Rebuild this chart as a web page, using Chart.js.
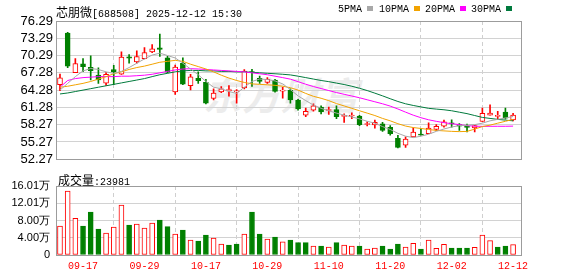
<!DOCTYPE html>
<html>
<head>
<meta charset="utf-8">
<script src="https://cdn.jsdelivr.net/npm/chart.js@4.4.1/dist/chart.umd.min.js"></script>
<style>
  html, body { margin: 0; padding: 0; background: #fff; }
  #wrap { position: relative; width: 578px; height: 276px; overflow: hidden; }
  canvas { position: absolute; left: 0; }
  .t { position: absolute; white-space: nowrap; font: 10px "Liberation Mono", "DejaVu Sans Mono", monospace; line-height: 14px; color: #000; }
  .cjk { font: 12px "Noto Sans CJK SC"; }
  .sq { display: inline-block; width: 6px; height: 5px; margin-left: 5px; vertical-align: 1px; }
  #wm { position: absolute; left: 203px; top: 72px; font: italic bold 38px "Noto Sans CJK SC"; color: #ececec; line-height: 44px; letter-spacing: 1px; }
</style>
</head>
<body>
<div id="wrap">
  <div id="wm">东方财富</div>
  <canvas id="pc" width="578" height="170" style="top:0"></canvas>
  <canvas id="vc" width="578" height="106" style="top:170px"></canvas>
  <div class="t" style="left:56px;top:3px"><span class="cjk">芯朋微</span>[688508] 2025-12-12 15:30</div>
  <div id="legend"></div>
  <div class="t" id="volTitle" style="left:58px;top:171px"></div>
</div>
<script>
// trading days shown on the chart
const dates = ['09-12','09-15','09-16','09-17','09-18','09-19','09-22','09-23','09-24','09-25','09-26','09-29','09-30',
  '10-09','10-10','10-13','10-14','10-15','10-16','10-17','10-20','10-21','10-22','10-23','10-24','10-27','10-28','10-29','10-30','10-31',
  '11-03','11-04','11-05','11-06','11-07','11-10','11-11','11-12','11-13','11-14','11-17','11-18','11-19','11-20','11-21','11-24','11-25','11-26','11-27','11-28',
  '12-01','12-02','12-03','12-04','12-05','12-08','12-09','12-10','12-11','12-12'];

const openP = [65.23,74.17,67.33,68.84,68.23,66.90,65.50,67.83,67.07,70.05,69.17,69.73,70.90,71.62,69.90,63.95,68.95,65.06,66.33,65.61,
  62.83,63.95,64.20,63.98,64.66,67.50,66.33,65.61,66.00,64.10,64.23,62.56,59.94,60.78,61.33,60.73,60.89,59.72,59.78,59.78,
  58.30,58.22,58.40,57.82,55.89,54.70,56.16,56.60,56.72,57.44,57.99,58.55,58.27,57.90,57.72,58.83,59.94,59.70,60.44,59.11];
const highP = [67.07,74.34,69.74,69.78,70.23,68.17,67.33,68.57,70.95,70.45,71.12,71.67,72.17,74.00,70.17,68.62,69.90,67.00,67.45,66.17,
  64.50,64.90,65.06,64.36,67.83,67.90,66.73,66.45,66.17,64.78,64.50,62.66,61.16,61.89,61.56,61.33,61.56,60.16,60.33,59.89,
  58.78,59.06,58.66,58.11,56.44,56.16,57.72,57.56,58.60,58.27,59.06,59.11,58.44,58.39,58.15,61.16,61.70,60.61,61.16,60.23];
const lowP = [64.16,68.17,67.30,67.50,66.06,65.45,65.11,65.23,67.00,68.98,68.98,69.70,70.79,70.12,67.28,63.53,65.23,64.33,65.45,61.89,
  62.56,63.83,63.23,62.00,64.50,64.90,65.45,65.45,63.90,62.86,62.00,60.78,59.66,60.61,60.16,60.06,59.33,58.66,59.33,58.11,
  58.05,57.66,57.11,56.44,54.22,54.32,56.16,56.44,56.72,57.22,57.83,57.82,57.27,57.00,57.00,58.83,59.94,59.19,59.22,58.94];
const closeP = [66.40,68.45,68.90,68.34,67.66,66.06,67.00,67.45,70.00,69.85,70.10,70.79,71.45,71.34,67.40,68.28,65.33,66.57,65.90,61.99,
  63.78,64.50,64.23,64.05,67.57,67.30,65.78,66.17,64.06,64.20,62.56,60.99,60.61,61.56,60.49,60.89,59.66,59.80,59.94,58.27,
  58.40,58.66,57.27,56.72,54.32,55.75,56.99,56.45,57.66,57.99,58.78,58.40,57.99,57.80,58.11,60.23,60.28,59.85,59.39,59.94];

const ma5 = [64.28,65.45,66.62,67.62,68.03,67.87,67.45,67.20,67.53,68.20,68.95,69.70,70.37,70.70,70.29,69.87,68.95,67.95,66.95,65.78,
  64.78,64.53,64.03,63.70,64.78,65.78,66.20,66.12,65.87,65.36,64.36,63.28,62.45,61.69,61.11,60.69,60.28,59.94,59.61,59.28,
  58.86,58.53,57.94,57.44,56.77,56.27,56.02,56.27,56.61,57.11,57.52,57.86,58.11,58.19,58.28,58.53,58.94,59.19,59.44,59.69];
const ma10 = [64.78,64.95,65.20,65.45,65.78,66.20,66.62,67.12,67.45,67.87,68.20,68.45,68.78,69.12,69.28,69.45,69.28,68.78,68.37,67.95,
  67.45,66.87,66.37,65.95,65.61,65.36,65.28,65.20,65.11,64.95,64.70,64.28,63.70,63.20,62.86,62.45,61.94,61.53,61.11,60.69,
  60.28,59.86,59.36,58.94,58.44,58.03,57.77,57.61,57.44,57.27,57.19,57.11,57.06,57.10,57.50,57.94,58.19,58.53,58.86,59.19];
const ma20 = [64.78,65.95,66.28,66.45,66.53,66.62,66.62,66.62,66.70,66.70,66.78,66.87,67.03,67.28,67.53,67.78,67.95,68.00,67.95,67.87,
  67.78,67.70,67.62,67.53,67.45,67.28,67.12,66.95,66.70,66.45,66.18,65.75,65.30,64.90,64.55,64.20,63.85,63.55,63.25,62.95,
  62.60,62.25,61.90,61.50,61.00,60.45,59.92,59.48,59.12,58.85,58.62,58.44,58.29,58.11,58.01,57.97,57.99,57.99,57.99,58.02];
const ma30 = [63.61,63.78,64.03,64.28,64.53,64.78,65.03,65.28,65.53,65.78,66.03,66.28,66.62,66.95,67.20,67.45,67.62,67.70,67.70,67.62,
  67.62,67.53,67.53,67.45,67.45,67.37,67.28,67.20,67.12,67.03,66.92,66.70,66.45,66.20,65.95,65.75,65.50,65.25,64.95,64.60,
  64.20,63.75,63.28,62.78,62.30,61.90,61.61,61.36,61.11,60.98,60.86,60.69,60.44,60.19,59.86,59.53,59.36,59.19,59.06,58.94];

// volume in lots (手)
const volume = [67300,148500,85100,67300,99800,60300,51000,65000,116000,69600,71900,62600,74200,81200,65700,48700,58000,34800,32500,46400,
  39400,25500,23200,25500,48700,99800,48700,37100,41800,30600,34800,28600,28600,20900,20900,18600,28600,23200,20900,20900,
  13900,16200,20900,13900,25500,18600,27100,13900,34800,15500,24700,16200,16200,16200,17800,46400,33300,18600,20900,23981];
// 1 = close above previous close (red bar), 0 = below (green bar)
const volUp = [1,1,1,0,0,0,1,1,1,0,1,1,1,0,0,1,0,1,0,0,1,1,0,0,1,0,0,1,0,1,
  0,0,0,1,0,1,0,1,1,0,1,1,0,0,0,1,1,0,1,1,1,0,0,0,1,1,1,0,0,1];

const maNames = ['5PMA', '10PMA', '20PMA', '30PMA'];
const maSeries = [ma5, ma10, ma20, ma30];

const priceTickLabels = ['52.27','55.27','58.27','61.28','64.28','67.28','70.29','73.29','76.29'];
const volTickValues = [0, 40025, 80050, 120075, 160100];
const volTickLabels = ['0', '4.00万', '8.00万', '12.01万', '16.01万'];
const dateTickLabels = ['09-17','09-29','10-17','10-29','11-10','11-20','12-02','12-12'];

const RED = '#ff0000', GREEN = '#008000';
const maColors = ['#a8a8a8', '#f2a300', '#ff00ff', '#007a3d'];
const up = closeP.map((c, i) => c >= openP[i]);
const tickIdx = dateTickLabels.map(d => dates.indexOf(d));

// legend + volume caption as page text
const legendLeft = [338, 379, 425, 471];
document.getElementById('legend').innerHTML = maNames.map((n, k) =>
  `<div class="t" style="left:${legendLeft[k]}px;top:3px">${n}<span class="sq" style="background:${maColors[k]}"></span></div>`).join('');
document.getElementById('volTitle').innerHTML = `<span class="cjk">成交量</span>:${volume[volume.length - 1]}`;

const frame = {
  id: 'frame',
  afterDatasetsDraw(chart) {
    const { ctx, chartArea: a } = chart;
    ctx.save();
    ctx.strokeStyle = '#9c9c9c';
    ctx.lineWidth = 1;
    ctx.strokeRect(Math.round(a.left) + 0.5, Math.round(a.top) + 0.5,
      Math.round(a.right - a.left) - 1, Math.round(a.bottom - a.top));
    ctx.restore();
  }
};

function xAxis(showLabels) {
  return {
    type: 'linear', min: -0.52, max: 60.16, bounds: 'data', offset: false,
    afterBuildTicks: s => { s.ticks = tickIdx.map(v => ({ value: v })); },
    afterFit: s => { s.height = showLabels ? 21 : 0; },
    grid: { color: '#cfcfcf', drawTicks: false },
    border: { display: false, dash: [4, 3] },
    ticks: {
      display: showLabels, autoSkip: false, maxRotation: 0, padding: 5, color: RED,
      font: { family: 'Liberation Mono', size: 10 },
      callback: v => dates[v]
    }
  };
}

const common = {
  responsive: false, animation: false, devicePixelRatio: 1,
  plugins: { legend: { display: false }, tooltip: { enabled: false } }
};

new Chart(document.getElementById('pc'), {
  type: 'bar',
  data: {
    datasets: [
      ...maSeries.map((s, k) => ({
        type: 'line', data: s.map((v, i) => ({ x: i, y: v })),
        borderColor: maColors[k], borderWidth: 1, pointRadius: 0, tension: 0, order: 0
      })),
      {
        data: dates.map((d, i) => ({ x: i, y: [openP[i], closeP[i]] })),
        barThickness: 5, grouped: false, borderSkipped: false, minBarLength: 1,
        backgroundColor: up.map(u => u ? '#ffffff' : GREEN),
        borderColor: up.map(u => u ? RED : GREEN),
        borderWidth: 1, order: 1
      },
      {
        data: dates.map((d, i) => ({ x: i, y: [lowP[i], highP[i]] })),
        barThickness: 1, grouped: false, borderWidth: 0,
        backgroundColor: up.map(u => u ? RED : GREEN), order: 2
      }
    ]
  },
  options: {
    ...common,
    layout: { padding: { top: 21, right: 56, bottom: 5, left: 0 } },
    scales: {
      x: xAxis(false),
      y: {
        type: 'linear', min: 52.27, max: 76.29, bounds: 'data',
        afterBuildTicks: s => { s.ticks = priceTickLabels.map(v => ({ value: parseFloat(v) })); },
        afterFit: s => { s.width = 56; },
        grid: { color: '#d2d2d2', drawTicks: false },
        border: { display: false },
        ticks: {
          autoSkip: false, padding: 3, color: '#000',
          font: { family: 'Liberation Sans', size: 13 },
          callback: (v, i) => priceTickLabels[i]
        }
      }
    }
  },
  plugins: [frame]
});

new Chart(document.getElementById('vc'), {
  type: 'bar',
  data: {
    datasets: [{
      data: volume.map((v, i) => ({ x: i, y: v })),
      barThickness: 5, grouped: false, borderSkipped: false, borderWidth: 1,
      backgroundColor: volUp.map(u => u ? '#ffffff' : GREEN),
      borderColor: volUp.map(u => u ? RED : GREEN)
    }]
  },
  options: {
    ...common,
    layout: { padding: { top: 16, right: 56, bottom: 0, left: 0 } },
    scales: {
      x: xAxis(true),
      y: {
        type: 'linear', min: 0, max: 160100, bounds: 'data',
        afterBuildTicks: s => { s.ticks = volTickValues.map(v => ({ value: v })); },
        afterFit: s => { s.width = 56; },
        grid: { color: '#d2d2d2', drawTicks: false },
        border: { display: false },
        ticks: {
          autoSkip: false, padding: 6, color: '#000',
          font: { family: 'Liberation Sans', size: 11 },
          callback: (v, i) => volTickLabels[i]
        }
      }
    }
  },
  plugins: [frame]
});
</script>
</body>
</html>
